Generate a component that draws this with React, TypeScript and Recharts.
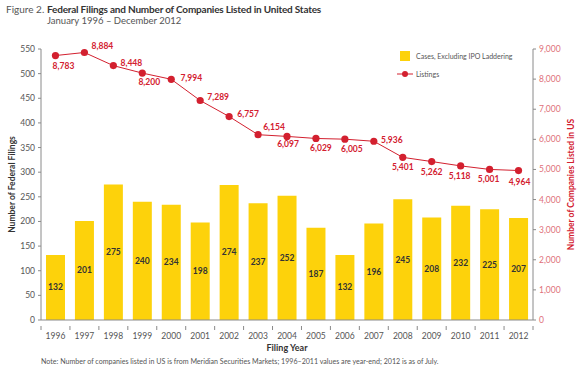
import React from 'react';
import { ComposedChart, Bar, Line, XAxis, YAxis, LabelList } from 'recharts';

const years = ['1996', '1997', '1998', '1999', '2000', '2001', '2002', '2003', '2004', '2005', '2006', '2007', '2008', '2009', '2010', '2011', '2012'];
const cases = [132, 201, 275, 240, 234, 198, 274, 237, 252, 187, 132, 196, 245, 208, 232, 225, 207];
const listings = [8783, 8884, 8448, 8200, 7994, 7289, 6757, 6154, 6097, 6029, 6005, 5936, 5401, 5262, 5118, 5001, 4964];
const leftTicks = [0, 50, 100, 150, 200, 250, 300, 350, 400, 450, 500, 550];
const rightTicks = [0, 1000, 2000, 3000, 4000, 5000, 6000, 7000, 8000, 9000];

// label offsets (dx, dy) from each listing dot, in px
const labelDx = [8, 18, 18, 7, 20, 18, 19, 16, 1, 5, 7, 18, 0, 0, -1, -1, 1];
const labelDy = [10, -6, -3, 9, -1, -4, -3, -8, 8, 10, 10, -1, 10, 10, 10, 10, 11];

const data = years.map((y, i) => ({ year: y, cases: cases[i], listings: listings[i] }));

const FONT = 'Lato, "Open Sans", sans-serif';
const YELLOW = '#FDD20B';
const RED = '#D3202F';
const AXIS = '#8a8a8a';

const PLOT_LEFT = 41;
const PLOT_RIGHT = 533;
const HALF_BAND = (PLOT_RIGHT - PLOT_LEFT) / years.length / 2;

const XTick = (props: any) => {
  const { x, y, payload, index } = props;
  const last = index === years.length - 1;
  return (
    <g>
      <line x1={x - HALF_BAND} x2={x - HALF_BAND} y1={y - 2} y2={y + 2} stroke={AXIS} strokeWidth={1} />
      {last && <line x1={x + HALF_BAND} x2={x + HALF_BAND} y1={y - 2} y2={y + 2} stroke={AXIS} strokeWidth={1} />}
      <text x={x} y={y + 11} textAnchor="middle" fontSize={8.5} fill="#555" fontFamily={FONT}>
        {payload.value}
      </text>
    </g>
  );
};

const ListingLabel = (props: any) => {
  const { x, y, value, index } = props;
  return (
    <text
      x={x + labelDx[index]}
      y={y + labelDy[index]}
      textAnchor="middle"
      dominantBaseline="central"
      fontSize={8.5}
      fontWeight={700}
      fill={RED}
      fontFamily={FONT}
    >
      {Number(value).toLocaleString('en-US')}
    </text>
  );
};

const BarLabel = (props: any) => {
  const { x, y, width, height, value } = props;
  return (
    <text
      x={x + width / 2}
      y={y + height / 2}
      textAnchor="middle"
      dominantBaseline="central"
      fontSize={8.5}
      fontWeight={700}
      fill="#333"
      fontFamily={FONT}
    >
      {value}
    </text>
  );
};

export default function App() {
  return (
    <div style={{ position: 'absolute', left: 0, top: 0, width: 580, height: 372, background: '#fff', fontFamily: FONT }}>
      <div style={{ position: 'absolute', left: 6, top: 3, fontSize: 10, color: '#555', whiteSpace: 'nowrap' }}>Figure 2.</div>
      <div style={{ position: 'absolute', left: 47, top: 3, fontSize: 10, fontWeight: 700, color: '#333', whiteSpace: 'nowrap', letterSpacing: -0.2 }}>
        Federal Filings and Number of Companies Listed in United States
      </div>
      <div style={{ position: 'absolute', left: 47, top: 15, fontSize: 9.5, color: '#555', whiteSpace: 'nowrap' }}>
        January 1996 – December 2012
      </div>
      <ComposedChart
        width={580}
        height={372}
        data={data}
        margin={{ top: 49, right: 5, bottom: 22, left: 5 }}
        barSize={19}
      >
        <XAxis
          dataKey="year"
          height={30}
          axisLine={{ stroke: AXIS }}
          tickLine={false}
          tick={<XTick />}
          interval={0}
          label={(p: any) => {
            const vb = p.viewBox;
            return (
              <text x={vb.x + vb.width / 2} y={347} textAnchor="middle" dominantBaseline="central" fontSize={9} fontWeight={700} fill="#333" fontFamily={FONT}>
                Filing Year
              </text>
            );
          }}
        />
        <YAxis
          yAxisId="left"
          orientation="left"
          width={36}
          domain={[0, 550]}
          ticks={leftTicks}
          interval={0}
          axisLine={{ stroke: AXIS }}
          tickLine={{ stroke: AXIS }}
          tickSize={3}
          tickMargin={3}
          tick={{ fontSize: 8.5, fill: '#555', fontFamily: FONT }}
          label={(p: any) => {
            const vb = p.viewBox;
            const cy = vb.y + vb.height / 2;
            return (
              <text x={12} y={cy} transform={`rotate(-90 12 ${cy})`} textAnchor="middle" dominantBaseline="central" fontSize={8.5} fontWeight={700} fill="#333" fontFamily={FONT}>
                Number of Federal Filings
              </text>
            );
          }}
        />
        <YAxis
          yAxisId="right"
          orientation="right"
          width={42}
          domain={[0, 9000]}
          ticks={rightTicks}
          interval={0}
          axisLine={{ stroke: AXIS }}
          tickLine={{ stroke: AXIS }}
          tickSize={3}
          tickMargin={3}
          tickFormatter={(v: number) => v.toLocaleString('en-US')}
          tick={{ fontSize: 8.5, fill: '#E0707A', fontFamily: FONT }}
          label={(p: any) => {
            const vb = p.viewBox;
            const cy = vb.y + vb.height / 2;
            return (
              <text x={571} y={cy} transform={`rotate(-90 571 ${cy})`} textAnchor="middle" dominantBaseline="central" fontSize={8.5} fontWeight={700} fill={RED} fontFamily={FONT}>
                Number of Companies Listed in US
              </text>
            );
          }}
        />
        <Bar yAxisId="left" dataKey="cases" fill={YELLOW} isAnimationActive={false}>
          <LabelList dataKey="cases" content={<BarLabel />} />
        </Bar>
        <Line
          yAxisId="right"
          dataKey="listings"
          stroke={RED}
          strokeWidth={1}
          dot={{ r: 3.6, fill: RED, stroke: RED, strokeWidth: 0 }}
          isAnimationActive={false}
        >
          <LabelList dataKey="listings" content={<ListingLabel />} />
        </Line>
      </ComposedChart>
      <svg width={140} height={34} style={{ position: 'absolute', left: 397, top: 51, overflow: 'visible' }}>
        <rect x={3} y={0} width={10} height={10} fill={YELLOW} />
        <text x={19} y={5} dominantBaseline="central" fontSize={7} fill="#555" fontFamily={FONT}>
          Cases, Excluding IPO Laddering
        </text>
        <line x1={0} x2={16} y1={23} y2={23} stroke={RED} strokeWidth={1} />
        <circle cx={8} cy={23} r={3} fill={RED} />
        <text x={19} y={23} dominantBaseline="central" fontSize={7} fill="#555" fontFamily={FONT}>
          Listings
        </text>
      </svg>
      <div style={{ position: 'absolute', left: 41, top: 357, fontSize: 7.1, color: '#555', whiteSpace: 'nowrap' }}>
        Note: Number of companies listed in US is from Meridian Securities Markets; 1996–2011 values are year-end; 2012 is as of July.
      </div>
    </div>
  );
}
